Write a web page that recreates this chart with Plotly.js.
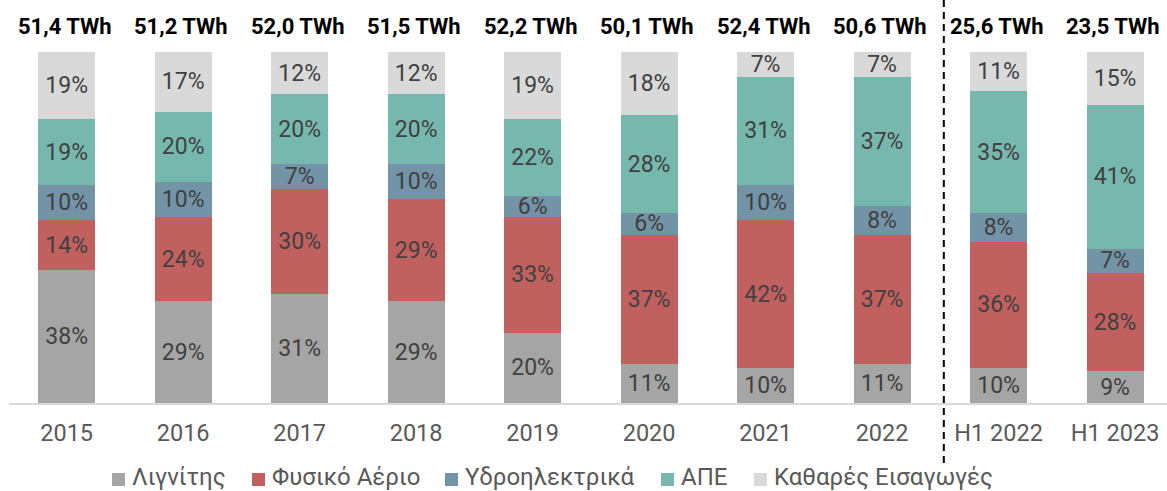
<!DOCTYPE html>
<html>
<head>
<meta charset="utf-8">
<script src="https://cdn.plot.ly/plotly-3.0.1.min.js"></script>
<style>html,body{margin:0;padding:0;background:#fff;}#chart{width:1167px;height:491px;}</style>
</head>
<body>
<div id="chart"></div>
<script>
const categories = ["2015","2016","2017","2018","2019","2020","2021","2022","H1 2022","H1 2023"];
const totalsTWh = [51.4, 51.2, 52.0, 51.5, 52.2, 50.1, 52.4, 50.6, 25.6, 23.5];
const lignite = [38, 29, 31, 29, 20, 11, 10, 11, 10, 9];
const naturalGas = [14, 24, 30, 29, 33, 37, 42, 37, 36, 28];
const hydro = [10, 10, 7, 10, 6, 6, 10, 8, 8, 7];
const renewables = [19, 20, 20, 20, 22, 28, 31, 37, 35, 41];
const netImports = [19, 17, 12, 12, 19, 18, 7, 7, 11, 15];
const seriesNames = ["Λιγνίτης", "Φυσικό Αέριο", "Υδροηλεκτρικά", "ΑΠΕ", "Καθαρές Εισαγωγές"];
const seriesColors = ["#A5A5A5", "#C0605F", "#7393A7", "#77B8AE", "#D9D9D9"];

const seriesValues = [lignite, naturalGas, hydro, renewables, netImports];
const xIdx = categories.map((c, i) => i);

// page geometry (pixels)
const W = 1167, H = 491;
const M = {l: 9, r: 0, t: 52, b: 88};
const plotW = W - M.l - M.r, plotH = H - M.t - M.b;
const px2paperX = p => (p - M.l) / plotW;
const px2paperY = p => (H - M.b - p) / plotH;

// custom legend layout (pixel positions of swatches)
const legendSwatchLeft = [112, 252, 445, 661, 754];
const legendSwatchSize = 13;
const legendSwatchCenterY = 479.5;
const legendTextCenterY = 476.6;
const legendTextGap = 6;

const traces = seriesValues.map((vals, k) => ({
  type: 'bar',
  name: seriesNames[k],
  x: xIdx,
  y: vals,
  marker: {color: seriesColors[k], line: {width: 0}},
  text: vals.map(v => v + '%'),
  textposition: 'inside',
  insidetextanchor: 'middle',
  textangle: 0,
  constraintext: 'none',
  textfont: {family: 'Roboto', size: 23, color: '#404040'},
  hoverinfo: 'none'
}));

const annotations = categories.map((c, i) => ({
  x: i, xref: 'x', y: 1, yref: 'paper',
  yanchor: 'middle', yshift: 26, xshift: -2,
  text: totalsTWh[i].toFixed(1).replace('.', ',') + ' TWh',
  showarrow: false,
  font: {family: 'Roboto', size: 22, color: '#000000', weight: 'bold'}
}));

const shapes = [{
  type: 'line', xref: 'x', yref: 'paper',
  x0: 7.53, x1: 7.53, y0: px2paperY(0), y1: px2paperY(468),
  line: {color: '#000000', width: 2, dash: '7px,5px'}
}];

seriesNames.forEach((name, k) => {
  const x0 = legendSwatchLeft[k];
  shapes.push({
    type: 'rect', xref: 'paper', yref: 'paper',
    x0: px2paperX(x0), x1: px2paperX(x0 + legendSwatchSize),
    y0: px2paperY(legendSwatchCenterY + legendSwatchSize / 2),
    y1: px2paperY(legendSwatchCenterY - legendSwatchSize / 2),
    fillcolor: seriesColors[k], line: {width: 0}
  });
  annotations.push({
    xref: 'paper', yref: 'paper',
    x: px2paperX(x0 + legendSwatchSize + legendTextGap), xanchor: 'left',
    y: px2paperY(legendTextCenterY), yanchor: 'middle',
    text: name, showarrow: false, borderpad: 0,
    font: {family: 'Roboto', size: 24, color: '#595959'}
  });
});

const layout = {
  width: W, height: H,
  margin: {l: M.l, r: M.r, t: M.t, b: M.b, pad: 0},
  paper_bgcolor: '#ffffff', plot_bgcolor: '#ffffff',
  font: {family: 'Roboto', color: '#595959'},
  barmode: 'stack',
  bargap: 0.511,
  showlegend: false,
  xaxis: {
    range: [-0.495, 9.446],
    tickmode: 'array', tickvals: xIdx, ticktext: categories,
    showline: true, linecolor: '#D9D9D9', linewidth: 2,
    ticks: '', showgrid: false, zeroline: false,
    ticklabelstandoff: 8,
    tickfont: {family: 'Roboto', size: 23.5, color: '#595959'}
  },
  yaxis: {range: [0, 100], visible: false, fixedrange: true},
  annotations: annotations,
  shapes: shapes
};

Plotly.newPlot('chart', traces, layout, {displayModeBar: false, staticPlot: true});
</script>
</body>
</html>
